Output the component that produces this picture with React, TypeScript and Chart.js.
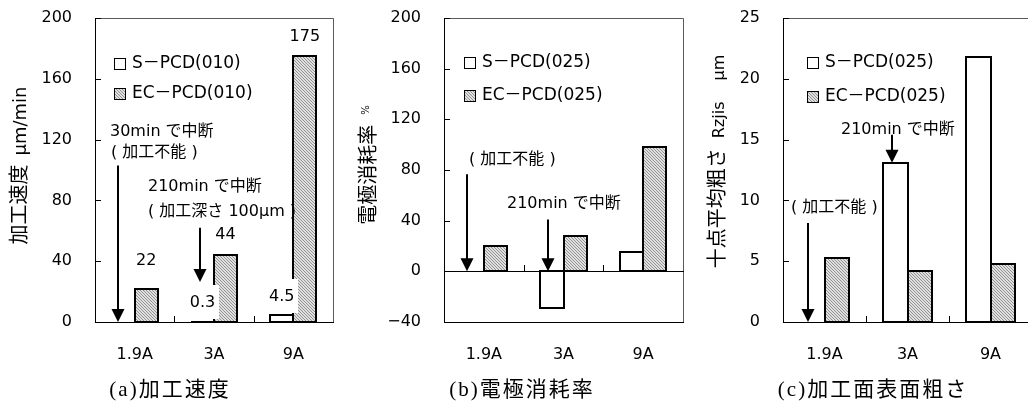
import React, { useEffect, useRef } from 'react';
import { Chart, registerables } from 'chart.js';

Chart.register(...registerables);

// ---------- data ----------
const categories = ['1.9A', '3A', '9A'];

// (a) 加工速度 μm/min
const rateS: (number | null)[] = [null, 0.3, 4.5];
const rateEC: (number | null)[] = [22, 44, 175];
const rateTicks = [0, 40, 80, 120, 160, 200];

// (b) 電極消耗率 %
const wearS: (number | null)[] = [null, -29, 15];
const wearEC: (number | null)[] = [20, 28, 98];
const wearTicks = [-40, 0, 40, 80, 120, 160, 200];

// (c) 十点平均粗さ Rzjis μm
const roughS: (number | null)[] = [null, 13.1, 21.8];
const roughEC: (number | null)[] = [5.3, 4.2, 4.8];
const roughTicks = [0, 5, 10, 15, 20, 25];

const legendA = ['S－PCD(010)', 'EC－PCD(010)'];
const legendBC = ['S－PCD(025)', 'EC－PCD(025)'];

// ---------- fonts ----------
const NUM_FONT = '16px "DejaVu Sans", "Noto Sans CJK JP", sans-serif';
const LEGEND_FONT = '17px "DejaVu Sans", "Noto Sans CJK JP", sans-serif';
const KANJI_TITLE = '20px "Noto Sans CJK JP", sans-serif';
const CAPTION_FONT = '21px "Liberation Serif", "Noto Sans CJK JP", serif';

type Seg = { text: string; font: string; gap?: number; rise?: number };
type Note = { text: string; x: number; y: number };
type Arrow = { cat: number; dx: number; from: number; to: number };

interface PanelCfg {
  key: string;
  left: number;
  width: number;
  axisW: number;
  rightPad: number;
  ticks: number[];
  s: (number | null)[];
  ec: (number | null)[];
  legend: string[];
  legendX: number;
  legendY: number[];
  title: Seg[];
  titleX: number;
  titleY: number;
  caption: string;
  captionX: number;
  notes: Note[];
  arrows: Arrow[];
  lifts?: { s: number[]; ec: number[] };
}

const panels: PanelCfg[] = [
  {
    key: 'a', left: 0, width: 340, axisW: 95, rightPad: 7,
    ticks: rateTicks, s: rateS, ec: rateEC, legend: legendA,
    legendX: 114, legendY: [64, 94],
    title: [
      { text: '加工速度', font: KANJI_TITLE },
      { text: 'μm/min', font: '18px "DejaVu Sans", sans-serif', gap: 9 },
    ],
    titleX: 26, titleY: 165.5,
    caption: '(a)加工速度', captionX: 169,
    notes: [
      { text: '30min で中断', x: 110, y: 132 },
      { text: '( 加工不能 )', x: 111, y: 153 },
      { text: '210min で中断', x: 148, y: 187 },
      { text: '( 加工深さ 100μm )', x: 148, y: 212 },
    ],
    arrows: [
      { cat: 0, dx: -5, from: 103, to: 0 },
      { cat: 1, dx: -2, from: 62, to: 26.3 },
    ],
    lifts: { s: [0, 19, 18], ec: [28, 20, 19] },
  },
  {
    key: 'b', left: 340, width: 346, axisW: 104, rightPad: 3,
    ticks: wearTicks, s: wearS, ec: wearEC, legend: legendBC,
    legendX: 464, legendY: [63, 96],
    title: [
      { text: '電極消耗率', font: KANJI_TITLE },
      { text: '%', font: '10px "DejaVu Sans", sans-serif', gap: 10, rise: 6 },
    ],
    titleX: 375, titleY: 165,
    caption: '(b)電極消耗率', captionX: 521,
    notes: [
      { text: '( 加工不能 )', x: 469, y: 160 },
      { text: '210min で中断', x: 507, y: 204 },
    ],
    arrows: [
      { cat: 0, dx: -5, from: 76.6, to: 0 },
      { cat: 1, dx: -4, from: 41, to: 0 },
    ],
  },
  {
    key: 'c', left: 686, width: 353, axisW: 97, rightPad: 7,
    ticks: roughTicks, s: roughS, ec: roughEC, legend: legendBC,
    legendX: 807, legendY: [63, 97],
    title: [
      { text: '十点平均粗さ', font: KANJI_TITLE },
      { text: 'Rzjis', font: '16px "DejaVu Sans", sans-serif', gap: 10 },
      { text: 'μm', font: '16px "DejaVu Sans", sans-serif', gap: 21 },
    ],
    titleX: 724, titleY: 161.5,
    caption: '(c)加工面表面粗さ', captionX: 872,
    notes: [
      { text: '210min で中断', x: 841, y: 130 },
      { text: '( 加工不能 )', x: 791, y: 208 },
    ],
    arrows: [
      { cat: 1, dx: -3.5, from: 15.4, to: 13.1 },
      { cat: 0, dx: -4.5, from: 8.14, to: 0 },
    ],
  },
];

function makeHatch(ctx: CanvasRenderingContext2D): CanvasPattern | string {
  const c = document.createElement('canvas');
  c.width = 3;
  c.height = 3;
  const g = c.getContext('2d');
  if (!g) return '#c8c8c8';
  g.fillStyle = '#e0e0e0';
  g.fillRect(0, 0, 3, 3);
  g.fillStyle = '#929292';
  for (let i = 0; i < 3; i++) g.fillRect(i, i, 1, 1);
  return ctx.createPattern(c, 'repeat') || '#c8c8c8';
}

function line(ctx: CanvasRenderingContext2D, x1: number, y1: number, x2: number, y2: number) {
  ctx.beginPath();
  ctx.moveTo(x1, y1);
  ctx.lineTo(x2, y2);
  ctx.stroke();
}

function makePlugin(cfg: PanelCfg, pattern: CanvasPattern | string) {
  return {
    id: 'panelDecor' + cfg.key,
    afterDraw(chart: any) {
      const ctx: CanvasRenderingContext2D = chart.ctx;
      const { left, right, top, bottom } = chart.chartArea;
      const xs = chart.scales.x;
      const ys = chart.scales.y;
      const y0 = Math.round(ys.getPixelForValue(0));
      const off = cfg.left;
      ctx.save();

      // bar outlines (centered on edges)
      ctx.strokeStyle = '#000';
      ctx.lineWidth = 2;
      for (let d = 0; d < 2; d++) {
        const meta = chart.getDatasetMeta(d);
        const data = chart.data.datasets[d].data;
        meta.data.forEach((el: any, i: number) => {
          if (data[i] === null || data[i] === undefined) return;
          const p = el.getProps(['x', 'y', 'base', 'width'], true);
          const l = Math.round(p.x - p.width / 2);
          const r = Math.round(p.x + p.width / 2);
          const t = Math.round(Math.min(p.y, p.base));
          const b = Math.round(Math.max(p.y, p.base));
          ctx.strokeRect(l, t, r - l, b - t);
        });
      }

      // frame: top/right gray
      ctx.lineWidth = 1;
      ctx.strokeStyle = '#5a5a5a';
      ctx.beginPath();
      ctx.moveTo(left, top + 0.5);
      ctx.lineTo(right + 0.5, top + 0.5);
      ctx.lineTo(right + 0.5, bottom);
      ctx.stroke();

      ctx.strokeStyle = '#000';
      line(ctx, left + 0.5, top, left + 0.5, bottom + 1);
      line(ctx, left, bottom + 0.5, right + 1, bottom + 0.5);
      if (y0 !== bottom) line(ctx, left, y0 + 0.5, right + 1, y0 + 0.5);
      ys.ticks.forEach((t: any) => {
        const py = Math.round(ys.getPixelForValue(t.value)) + 0.5;
        line(ctx, left, py, left + 6, py);
      });
      for (let i = 1; i < categories.length; i++) {
        const px = Math.round((xs.getPixelForValue(i - 1) + xs.getPixelForValue(i)) / 2) + 0.5;
        line(ctx, px, y0 + 0.5, px, y0 - 6);
      }

      // value labels
      ctx.font = NUM_FONT;
      ctx.textAlign = 'center';
      ctx.textBaseline = 'middle';
      if (cfg.lifts) {
        const lifts = [cfg.lifts.s, cfg.lifts.ec];
        for (let d = 0; d < 2; d++) {
          const meta = chart.getDatasetMeta(d);
          const data = chart.data.datasets[d].data;
          meta.data.forEach((el: any, i: number) => {
            const v = data[i];
            if (v === null || v === undefined) return;
            const p = el.getProps(['x', 'y'], true);
            const cx = p.x;
            const cy = Math.round(p.y - lifts[d][i]);
            const txt = String(v);
            if (d === 0) {
              const w = ctx.measureText(txt).width;
              ctx.fillStyle = '#fff';
              ctx.fillRect(Math.round(cx - w / 2 - 4), cy - 18, Math.round(w + 8), 34);
            }
            ctx.fillStyle = '#000';
            ctx.fillText(txt, cx, cy);
          });
        }
      }

      // notes
      ctx.textAlign = 'left';
      ctx.fillStyle = '#000';
      cfg.notes.forEach((n) => ctx.fillText(n.text, n.x - off, n.y));

      // arrows
      const ecMeta = chart.getDatasetMeta(1);
      cfg.arrows.forEach((a) => {
        const el = ecMeta.data[a.cat].getProps(['x', 'width'], true);
        const px = Math.round(el.x - el.width + a.dx);
        const yf = ys.getPixelForValue(a.from);
        const yt = ys.getPixelForValue(a.to);
        ctx.lineWidth = 2;
        line(ctx, px, yf, px, yt - 11);
        ctx.beginPath();
        ctx.moveTo(px - 6.5, yt - 13);
        ctx.lineTo(px + 6.5, yt - 13);
        ctx.lineTo(px, yt);
        ctx.closePath();
        ctx.fill();
      });

      // legend
      ctx.lineWidth = 1;
      cfg.legend.forEach((lab, d) => {
        const bx = cfg.legendX - off;
        const by = Math.round(cfg.legendY[d] - 6);
        ctx.fillStyle = d === 0 ? '#fff' : (pattern as any);
        ctx.fillRect(bx, by, 12, 12);
        ctx.strokeStyle = '#000';
        ctx.strokeRect(bx + 0.5, by + 0.5, 11, 11);
        ctx.fillStyle = '#000';
        ctx.font = LEGEND_FONT;
        ctx.textBaseline = 'middle';
        ctx.textAlign = 'left';
        ctx.fillText(lab, bx + 18, cfg.legendY[d]);
      });

      // vertical axis title
      let total = 0;
      cfg.title.forEach((s) => {
        ctx.font = s.font;
        total += (s.gap || 0) + ctx.measureText(s.text).width;
      });
      ctx.save();
      ctx.translate(cfg.titleX - off, cfg.titleY);
      ctx.rotate(-Math.PI / 2);
      ctx.textBaseline = 'alphabetic';
      ctx.textAlign = 'left';
      let cur = -total / 2;
      cfg.title.forEach((s) => {
        ctx.font = s.font;
        cur += s.gap || 0;
        ctx.fillText(s.text, cur, -(s.rise || 0));
        cur += ctx.measureText(s.text).width;
      });
      ctx.restore();

      // caption
      ctx.save();
      ctx.font = CAPTION_FONT;
      (ctx as any).letterSpacing = '2px';
      ctx.textAlign = 'center';
      ctx.textBaseline = 'middle';
      ctx.fillStyle = '#000';
      ctx.fillText(cfg.caption, cfg.captionX - off + 1, 390);
      ctx.restore();

      ctx.restore();
    },
  };
}

function Panel({ cfg }: { cfg: PanelCfg }) {
  const ref = useRef<HTMLCanvasElement>(null);
  useEffect(() => {
    const canvas = ref.current;
    if (!canvas) return;
    const ctx = canvas.getContext('2d');
    if (!ctx) return;
    const pattern = makeHatch(ctx);
    const tickVals = cfg.ticks;
    const chart = new Chart(canvas, {
      type: 'bar',
      data: {
        labels: categories,
        datasets: [
          {
            label: cfg.legend[0],
            data: cfg.s as any,
            backgroundColor: '#ffffff',
            borderWidth: 0,
            barPercentage: 1,
            categoryPercentage: 0.58,
          },
          {
            label: cfg.legend[1],
            data: cfg.ec as any,
            backgroundColor: pattern as any,
            borderWidth: 0,
            barPercentage: 1,
            categoryPercentage: 0.58,
          },
        ],
      },
      options: {
        responsive: false,
        animation: false,
        devicePixelRatio: 1,
        layout: { padding: { left: 0, right: cfg.rightPad, top: 18, bottom: 0 } },
        plugins: { legend: { display: false }, tooltip: { enabled: false }, title: { display: false } },
        scales: {
          x: {
            grid: { display: false, drawTicks: false },
            border: { display: false },
            ticks: { color: '#000', font: { family: '"DejaVu Sans", sans-serif', size: 16 }, padding: 23, maxRotation: 0 },
            afterFit: (s: any) => {
              s.height = 79;
              s.paddingLeft = 0;
              s.paddingRight = 0;
            },
          } as any,
          y: {
            min: tickVals[0],
            max: tickVals[tickVals.length - 1],
            grid: { display: false, drawTicks: false },
            border: { display: false },
            ticks: {
              color: '#000',
              font: { family: '"DejaVu Sans", sans-serif', size: 16 },
              padding: 23,
              callback: (v: any) => String(v).replace('-', '−'),
            },
            afterBuildTicks: (s: any) => { s.ticks = tickVals.map((v) => ({ value: v })); },
            afterFit: (s: any) => {
              s.width = cfg.axisW;
              s.paddingTop = 0;
              s.paddingBottom = 0;
            },
          } as any,
        },
      },
      plugins: [makePlugin(cfg, pattern)],
    });
    return () => chart.destroy();
  }, []);
  return (
    <canvas
      ref={ref}
      width={cfg.width}
      height={401}
      style={{ position: 'absolute', left: cfg.left, top: 0, width: cfg.width, height: 401 }}
    />
  );
}

export default function App() {
  return (
    <div
      style={{
        position: 'fixed', left: 0, top: 0, width: 1028, height: 401,
        overflow: 'hidden', background: '#ffffff',
      }}
    >
      {panels.map((p) => (
        <Panel key={p.key} cfg={p} />
      ))}
    </div>
  );
}
